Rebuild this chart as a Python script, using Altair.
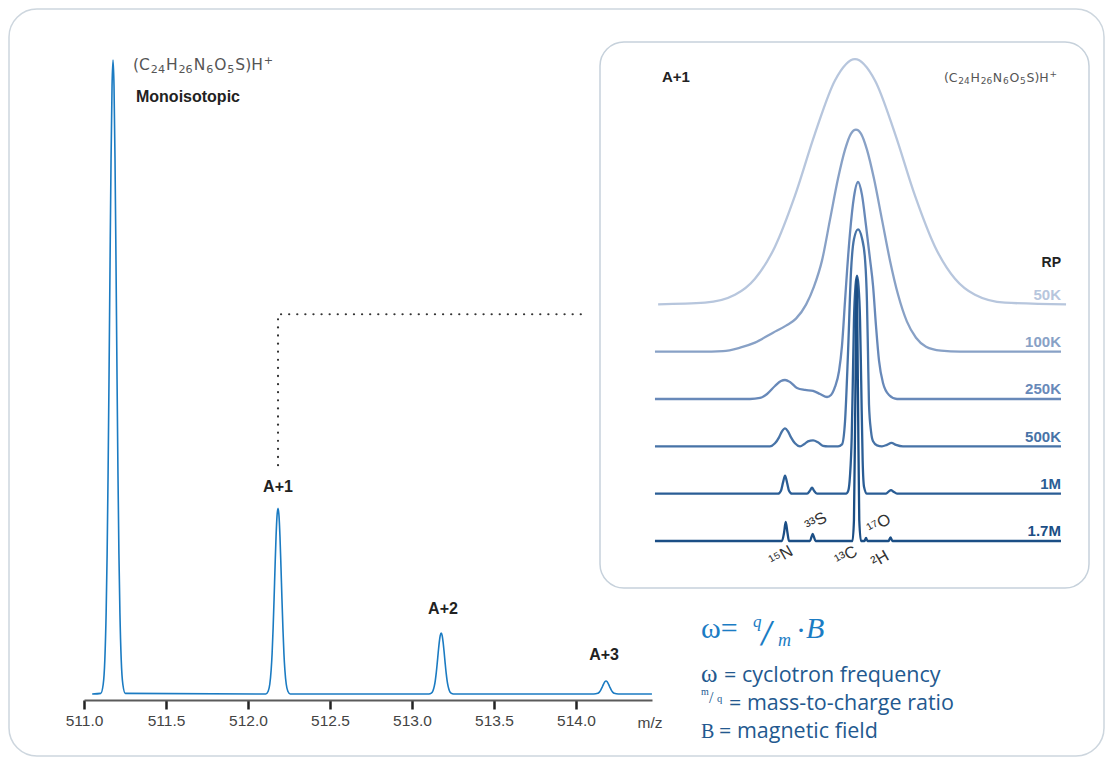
import altair as alt
import pandas as pd

# ---------------- main spectrum: m/z vs relative intensity (%) ----------------
main_mz = [511.050, 511.102, 511.117, 511.127, 511.135, 511.141, 511.147, 511.153, 511.159, 511.165, 511.171,
           511.177, 511.183, 511.189, 511.195, 511.201, 511.207, 511.213, 511.219, 511.227, 511.237, 511.252,
           512.108, 512.123, 512.133, 512.141, 512.147, 512.153, 512.159, 512.165, 512.171, 512.177, 512.183,
           512.189, 512.195, 512.201, 512.207, 512.213, 512.219, 512.225, 512.233, 512.243, 512.258,
           513.103, 513.118, 513.128, 513.136, 513.142, 513.148, 513.154, 513.160, 513.166, 513.172, 513.178,
           513.184, 513.190, 513.196, 513.202, 513.208, 513.214, 513.220, 513.228, 513.238, 513.253,
           514.108, 514.133, 514.141, 514.147, 514.153, 514.159, 514.165, 514.171, 514.177, 514.183,
           514.189, 514.195, 514.201, 514.207, 514.213, 514.219, 514.225, 514.233, 514.258, 514.463]
main_int = [0, 0.1, 1.5, 5.4, 12.8, 22.0, 35.0, 51.1, 68.5, 84.5, 95.9,
            100, 95.9, 84.5, 68.5, 51.1, 35.0, 22.0, 12.8, 5.4, 1.5, 0.1,
            0, 0.44, 1.58, 3.75, 6.4, 10.3, 15.0, 20.1, 24.8, 28.1, 29.3,
            28.1, 24.8, 20.1, 15.0, 10.3, 6.4, 3.75, 1.58, 0.44, 0,
            0, 0.14, 0.52, 1.23, 2.11, 3.36, 4.91, 6.58, 8.11, 9.21, 9.6,
            9.21, 8.11, 6.58, 4.91, 3.36, 2.11, 1.23, 0.52, 0.14, 0,
            0, 0.11, 0.26, 0.45, 0.72, 1.05, 1.40, 1.73, 1.97, 2.05,
            1.97, 1.73, 1.40, 1.05, 0.72, 0.45, 0.26, 0.11, 0, 0]
axis_ticks = [511.0, 511.5, 512.0, 512.5, 513.0, 513.5, 514.0]

peak_names = ["A+1", "A+2", "A+3"]
peak_name_mz = [512.183, 513.189, 514.171]
peak_name_int = [32.65, 13.4, 6.15]

# dotted guide from the A+1 peak towards the inset
guide_mz = [512.183, 512.183, 514.073]
guide_int = [36.1, 59.9, 59.9]

# molecular formula (C24H26N6O5S)H+ : (text, 0 normal / -1 subscript / 1 superscript)
formula_parts = [("(C", 0), ("24", -1), ("H", 0), ("26", -1), ("N", 0), ("6", -1), ("O", 0), ("5", -1),
                 ("S)H", 0), ("+", 1)]

# ---------------- inset: A+1 fine structure, offset from 13C (mDa) ----------------
rp_names = ["50K", "100K", "250K", "500K", "1M", "1.7M"]
rp_colors = ["#b7c6dd", "#88a1c6", "#6889b9", "#4773a7", "#2a5d95", "#1b4e85"]
rp_offsets = [90, 72, 54, 36, 18, 0]

t50_mda = [-17.6, -13.45, -10.8, -9.03, -7.26, -5.49, -3.72, -1.95, -0.18, 1.59, 3.36, 5.13, 6.90, 8.67,
           10.44, 13.1, 18.5]
t50_int = [0, 0.6, 3.6, 9.7, 21.9, 41.3, 64.9, 85.1, 93.2, 85.1, 64.9, 41.3, 21.9, 9.7, 3.6, 0.6, 0]

t100_mda = [-17.88, -13.89, -11.86, -10.35, -9.03, -7.43, -6.28, -5.40, -4.51, -3.81, -3.10, -2.39, -1.68,
            -1.06, -0.53, -0.09, 0.35, 0.88, 1.50, 2.21, 2.92, 3.63, 4.42, 5.22, 6.11, 7.43, 9.12, 18.05]
t100_int = [0, 0, 0.19, 1.52, 3.42, 7.22, 9.89, 12.55, 17.87, 24.71, 34.6, 50.2, 65.8, 76.8, 82.9, 84.4,
            82.9, 76.8, 65.8, 50.2, 34.6, 21.7, 11.4, 5.3, 1.9, 0.4, 0, 0]

t250_mda = [-17.88, -9.47, -8.58, -7.96, -7.26, -6.73, -6.37, -5.93, -5.31, -4.60, -3.89, -3.27, -2.65,
            -2.30, -1.95, -1.59, -1.33, -1.06, -0.88, -0.62, -0.27, 0.09, 0.44, 0.80, 1.15, 1.42, 1.68,
            1.95, 2.30, 2.83, 3.54, 18.05]
t250_int = [0, 0, 0.38, 1.90, 4.94, 6.84, 7.22, 6.46, 4.18, 3.42, 3.04, 1.90, 0.76,
            1.52, 4.56, 10.65, 20.2, 37.3, 48.7, 63.1, 76.8, 82.5, 77.6, 65.8, 53.2, 43.0, 27.8,
            14.45, 6.08, 1.52, 0, 0]

t500_mda = [-17.88, -7.70, -7.26, -6.90, -6.64, -6.37, -6.11, -5.84, -5.49, -5.04, -4.69, -4.34, -3.89,
            -3.45, -3.01, -2.57, -1.68, -1.33, -1.06, -0.80, -0.53, -0.27, 0.09, 0.44, 0.71, 0.88, 0.97,
            1.06, 1.24, 1.42, 1.77, 2.21, 2.65, 3.05, 3.45, 4.07, 18.05]
t500_int = [0, 0, 1.14, 3.42, 5.70, 6.84, 5.70, 3.42, 1.14, 0, 0.76, 1.90, 2.28,
            1.52, 0.19, 0, 0, 0.76, 9.51, 35.0, 66.5, 78.7, 82.5, 79.1, 71.1, 55.1, 36.1,
            16.0, 5.70, 1.90, 0.38, 0, 0.57, 1.33, 0.57, 0, 0]

t1m_mda = [-17.88, -6.99, -6.73, -6.55, -6.37, -6.19, -6.02, -5.75, -4.42, -4.16, -3.98, -3.81, -3.54,
           -0.97, -0.77, -0.62, -0.47, -0.37, -0.27, -0.13, 0, 0.13, 0.27, 0.37, 0.50, 0.62, 0.88,
           2.57, 2.79, 3.01, 3.23, 3.54, 18.05]
t1m_int = [0, 0, 1.14, 4.18, 6.84, 4.18, 1.14, 0, 0, 1.14, 2.28, 1.14, 0,
           0, 1.14, 6.84, 21.3, 43.0, 65.8, 79.1, 82.9, 79.1, 65.8, 43.0, 12.5, 2.66, 0,
           0, 0.76, 1.33, 0.76, 0, 0]

t17_mda = [-17.88, -6.64, -6.46, -6.31, -6.15, -6.02, -4.16, -4.03, -3.92, -3.81, -3.67, -0.40, -0.27,
           -0.15, -0.03, 0.09, 0.20, 0.35, 0.66, 0.80, 0.93, 2.79, 2.96, 3.14, 18.05]
t17_int = [0, 0, 3.04, 7.22, 3.04, 0, 0, 1.52, 2.66, 1.52, 0, 0, 7.98,
           53.6, 100, 53.6, 7.98, 0, 0, 1.14, 0, 0, 1.33, 0, 0]

trace_mda = [t50_mda, t100_mda, t250_mda, t500_mda, t1m_mda, t17_mda]
trace_int = [t50_int, t100_int, t250_int, t500_int, t1m_int, t17_int]

isotopes = ["¹⁵N", "³³S", "¹³C", "¹⁷O", "²H"]
iso_mda = [-6.73, -3.63, -0.97, 1.95, 2.04]
iso_int = [-5.70, 7.22, -5.70, 6.46, -6.84]

# ---------------- scales & styles ----------------
SANS = "Liberation Sans, Arial, DejaVu Sans"
SERIF = "Liberation Serif, DejaVu Serif"
DSERIF = "DejaVu Serif, Liberation Serif"
DSANS = "DejaVu Sans"
LEG = "Open Sans, Liberation Sans"
X_MAIN = alt.Scale(domain=[511.0, 514.4634], nice=False, zero=False)
Y_MAIN = alt.Scale(domain=[-0.946, 103.155], nice=False, zero=False)
X_INS = alt.Scale(domain=[-68.407, -18.142], nice=False, zero=False)
Y_INS = alt.Scale(domain=[-60.456, 190.494], nice=False, zero=False)
OX, OY = 84, 40
one = pd.DataFrame({"k": [0]})
# DejaVu Sans advance widths (em), used to lay out the formula pieces side by side
DV_W = {"(": 0.390, ")": 0.390, "C": 0.698, "H": 0.752, "N": 0.748, "O": 0.787, "S": 0.635, "+": 0.838}


def frame(x0, y0, x1, y1, radius, stroke, fill, fill_op):
    return alt.Chart(one).mark_rect(cornerRadius=radius, stroke=stroke, strokeWidth=1.5,
                                    fill=fill, fillOpacity=fill_op).encode(
        x=alt.value(x0 - OX), x2=alt.value(x1 - OX), y=alt.value(y0 - OY), y2=alt.value(y1 - OY))


def ptext(t, x, y, size, color, font, style="normal", weight="normal"):
    return alt.Chart(pd.DataFrame({"t": [t]})).mark_text(
        align="left", baseline="alphabetic", fontSize=size, color=color, font=font,
        fontStyle=style, fontWeight=weight).encode(
        text="t:N", x=alt.value(x - OX), y=alt.value(y - OY))


def dtext(df, xs, ys, **kw):
    return alt.Chart(df).mark_text(**kw).encode(
        x=alt.X("x:Q", scale=xs, axis=None), y=alt.Y("y:Q", scale=ys, axis=None), text="t:N")


def formula(x_anchor, baseline, size, color, right=False):
    sub = size * 0.72
    widths = [sum(DV_W.get(c, 0.636) for c in t) * (size if k == 0 else sub) for t, k in formula_parts]
    gap = size * 0.06
    total = sum(widths) + gap * (len(formula_parts) - 1)
    x = x_anchor - total if right else x_anchor
    out = []
    for (t, k), w in zip(formula_parts, widths):
        dy = size * 0.22 if k == -1 else (-size * 0.36 if k == 1 else 0)
        out.append(ptext(t, x, baseline + dy, size if k == 0 else sub, color, DSANS))
        x += w + gap
    return out


layers = []
layers.append(frame(9, 9, 1104, 756, 28, "#cdd6de", "white", 0))

main_df = pd.DataFrame({"mz": main_mz, "intensity": main_int})
layers.append(alt.Chart(main_df).mark_line(color="#1b7bc2", strokeWidth=1.6, interpolate="monotone",
                                           strokeJoin="round").encode(
    x=alt.X("mz:Q", scale=X_MAIN, title=None,
            axis=alt.Axis(values=axis_ticks, format=".1f", labelFontSize=15.5, labelColor="#444",
                          labelFont=SANS, tickColor="#222", tickWidth=2.5, tickSize=9,
                          domainColor="#5a5a5a", domainWidth=1.8, labelPadding=4, grid=False,
                          labelFlush=False, labelOverlap=False)),
    y=alt.Y("intensity:Q", scale=Y_MAIN, axis=None)))

guide_df = pd.DataFrame({"mz": guide_mz, "intensity": guide_int, "i": [0, 1, 2]})
layers.append(alt.Chart(guide_df).mark_line(color="#333", strokeWidth=2.2, strokeDash=[0.1, 8],
                                            strokeCap="round").encode(
    x=alt.X("mz:Q", scale=X_MAIN, axis=None), y=alt.Y("intensity:Q", scale=Y_MAIN, axis=None),
    order="i:Q"))

layers.append(dtext(pd.DataFrame({"x": peak_name_mz, "y": peak_name_int, "t": peak_names}), X_MAIN, Y_MAIN,
                    align="center", baseline="middle", fontSize=16, fontWeight="bold", color="#222", font=SANS))
layers += formula(133, 69.5, 15.5, "#555")
layers.append(dtext(pd.DataFrame({"x": [511.317], "y": [94.16], "t": ["Monoisotopic"]}), X_MAIN, Y_MAIN,
                    align="left", baseline="middle", fontSize=16, fontWeight="bold", color="#222", font=SANS))
layers.append(dtext(pd.DataFrame({"x": [514.451], "y": [-4.57], "t": ["m/z"]}), X_MAIN, Y_MAIN,
                    align="center", baseline="middle", fontSize=15.5, color="#444", font=SANS))

# inset box
layers.append(frame(600, 42, 1089, 588, 24, "#c6d1db", "white", 1))

for name, col, off, mx, iv in zip(rp_names, rp_colors, rp_offsets, trace_mda, trace_int):
    df = pd.DataFrame({"mda": mx, "val": [v + off for v in iv]})
    layers.append(alt.Chart(df).mark_line(color=col, strokeWidth=2.3, interpolate="monotone",
                                          strokeJoin="round").encode(
        x=alt.X("mda:Q", scale=X_INS, axis=None), y=alt.Y("val:Q", scale=Y_INS, axis=None)))
    layers.append(dtext(pd.DataFrame({"x": [18.05], "y": [off + 1.75], "t": [name]}), X_INS, Y_INS,
                        align="right", baseline="alphabetic", fontSize=15, fontWeight="bold",
                        color=col, font=SANS))

layers.append(dtext(pd.DataFrame({"x": [18.05], "y": [105.7], "t": ["RP"]}), X_INS, Y_INS,
                    align="right", baseline="middle", fontSize=14, fontWeight="bold", color="#222", font=SANS))
layers.append(dtext(pd.DataFrame({"x": [-17.26], "y": [176.4], "t": ["A+1"]}), X_INS, Y_INS,
                    align="left", baseline="middle", fontSize=15, fontWeight="bold", color="#222", font=SANS))
layers += formula(1057, 81.5, 12.5, "#555", right=True)
layers.append(dtext(pd.DataFrame({"x": iso_mda, "y": iso_int, "t": isotopes}), X_INS, Y_INS,
                    align="center", baseline="middle", fontSize=16.5, angle=330, color="#333", font=SANS))

# formula and legend
BLUE, NAVY = "#1b7cc4", "#23598f"
layers += [
    ptext("ω=", 701, 638, 30, BLUE, SERIF),
    ptext("q", 753, 627, 17, BLUE, SERIF, "italic"),
    ptext("/", 762, 643, 29, BLUE, DSERIF, "italic"),
    ptext("m", 778, 646, 18, BLUE, SERIF, "italic"),
    ptext("·", 796, 640, 30, BLUE, SERIF),
    ptext("B", 806, 638, 30, BLUE, SERIF, "italic"),
    ptext("ω", 701, 682, 25, NAVY, SERIF),
    ptext("= cyclotron frequency", 724, 682, 21.5, NAVY, LEG),
    ptext("m", 701, 695, 10, NAVY, SERIF),
    ptext("/", 709, 703, 16, NAVY, SERIF),
    ptext("q", 717, 702, 10.5, NAVY, SERIF),
    ptext("= mass-to-charge ratio", 729, 710, 21.5, NAVY, LEG),
    ptext("B", 701, 738, 20, NAVY, SERIF),
    ptext("= magnetic field", 719, 738, 21.5, NAVY, LEG),
]

chart = alt.layer(*layers).resolve_scale(x="independent", y="independent").properties(
    width=568, height=660,
    padding={"left": 76, "top": 32, "right": 453, "bottom": 57},
    autosize=alt.AutoSizeParams(type="none"),
    background="white",
).configure_view(strokeWidth=0)

chart.save("out.html", embed_options={"renderer": "svg", "actions": False})
